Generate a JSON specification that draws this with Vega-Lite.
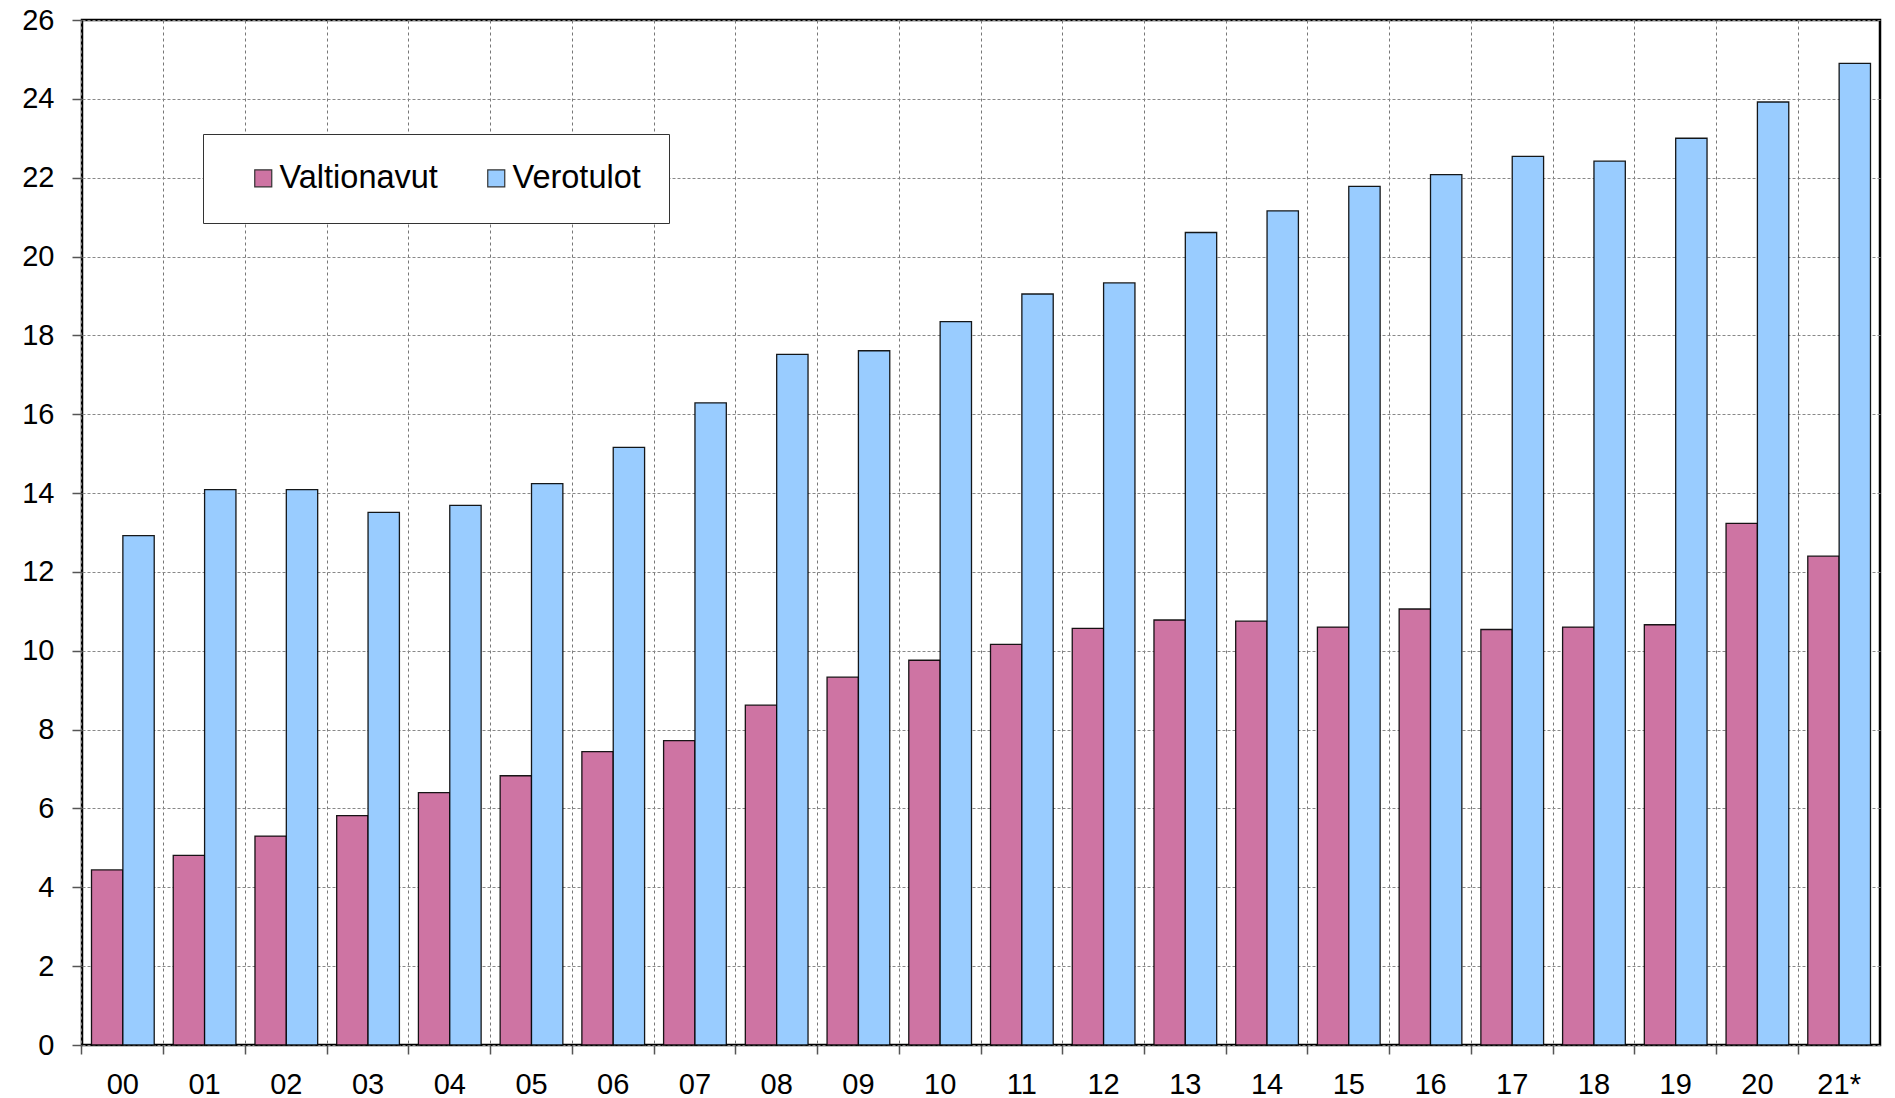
{
  "$schema": "https://vega.github.io/schema/vega-lite/v6.json",
  "width": 1798,
  "height": 1025,
  "autosize": {"type": "none"},
  "padding": {"left": 82, "top": 20, "right": 15, "bottom": 53},
  "background": "white",
  "data": {
    "values": [
      {"year": "00", "series": "Valtionavut", "value": 4.44},
      {"year": "01", "series": "Valtionavut", "value": 4.81},
      {"year": "02", "series": "Valtionavut", "value": 5.30},
      {"year": "03", "series": "Valtionavut", "value": 5.82},
      {"year": "04", "series": "Valtionavut", "value": 6.40},
      {"year": "05", "series": "Valtionavut", "value": 6.83},
      {"year": "06", "series": "Valtionavut", "value": 7.44},
      {"year": "07", "series": "Valtionavut", "value": 7.72},
      {"year": "08", "series": "Valtionavut", "value": 8.62},
      {"year": "09", "series": "Valtionavut", "value": 9.33},
      {"year": "10", "series": "Valtionavut", "value": 9.76},
      {"year": "11", "series": "Valtionavut", "value": 10.16},
      {"year": "12", "series": "Valtionavut", "value": 10.57},
      {"year": "13", "series": "Valtionavut", "value": 10.78},
      {"year": "14", "series": "Valtionavut", "value": 10.75},
      {"year": "15", "series": "Valtionavut", "value": 10.60},
      {"year": "16", "series": "Valtionavut", "value": 11.06},
      {"year": "17", "series": "Valtionavut", "value": 10.54},
      {"year": "18", "series": "Valtionavut", "value": 10.60},
      {"year": "19", "series": "Valtionavut", "value": 10.66},
      {"year": "20", "series": "Valtionavut", "value": 13.23},
      {"year": "21*", "series": "Valtionavut", "value": 12.40},
      {"year": "00", "series": "Verotulot", "value": 12.92},
      {"year": "01", "series": "Verotulot", "value": 14.09},
      {"year": "02", "series": "Verotulot", "value": 14.09},
      {"year": "03", "series": "Verotulot", "value": 13.51},
      {"year": "04", "series": "Verotulot", "value": 13.69},
      {"year": "05", "series": "Verotulot", "value": 14.24},
      {"year": "06", "series": "Verotulot", "value": 15.16},
      {"year": "07", "series": "Verotulot", "value": 16.29},
      {"year": "08", "series": "Verotulot", "value": 17.52},
      {"year": "09", "series": "Verotulot", "value": 17.61},
      {"year": "10", "series": "Verotulot", "value": 18.35},
      {"year": "11", "series": "Verotulot", "value": 19.05},
      {"year": "12", "series": "Verotulot", "value": 19.33},
      {"year": "13", "series": "Verotulot", "value": 20.61},
      {"year": "14", "series": "Verotulot", "value": 21.16},
      {"year": "15", "series": "Verotulot", "value": 21.78},
      {"year": "16", "series": "Verotulot", "value": 22.08},
      {"year": "17", "series": "Verotulot", "value": 22.54},
      {"year": "18", "series": "Verotulot", "value": 22.42},
      {"year": "19", "series": "Verotulot", "value": 23.00},
      {"year": "20", "series": "Verotulot", "value": 23.92},
      {"year": "21*", "series": "Verotulot", "value": 24.90}
    ]
  },
  "mark": {"type": "bar", "stroke": "#000000", "strokeWidth": 1.3, "strokeOpacity": 0.9},
  "encoding": {
    "x": {
      "field": "year",
      "type": "nominal",
      "sort": null,
      "scale": {"paddingInner": 0, "paddingOuter": 0},
      "axis": {
        "title": null,
        "labelAngle": 0,
        "bandPosition": 0,
        "grid": true,
        "gridColor": "#777777",
        "gridDash": [3, 3],
        "gridWidth": 1,
        "tickSize": 9,
        "tickColor": "#555555",
        "tickWidth": 1.5,
        "labelPadding": 16,
        "labelFontSize": 29,
        "labelFont": "Liberation Sans",
        "labelColor": "#000000",
        "domain": false
      }
    },
    "xOffset": {
      "field": "series",
      "type": "nominal",
      "scale": {"paddingInner": 0, "paddingOuter": 0.303}
    },
    "y": {
      "field": "value",
      "type": "quantitative",
      "scale": {"domain": [0, 26], "nice": false},
      "axis": {
        "title": null,
        "values": [0, 2, 4, 6, 8, 10, 12, 14, 16, 18, 20, 22, 24, 26],
        "grid": true,
        "gridColor": "#888888",
        "gridDash": [3, 2],
        "gridWidth": 1,
        "tickSize": 10,
        "tickColor": "#555555",
        "tickWidth": 1.5,
        "labelPadding": 18,
        "labelFontSize": 29,
        "labelFont": "Liberation Sans",
        "labelColor": "#000000",
        "domain": false
      }
    },
    "color": {
      "field": "series",
      "type": "nominal",
      "scale": {"domain": ["Valtionavut", "Verotulot"], "range": ["#CE74A3", "#99CCFF"]},
      "legend": {
        "title": null,
        "orient": "none",
        "direction": "horizontal",
        "legendX": 121,
        "legendY": 114,
        "padding": 28,
        "strokeColor": "#333333",
        "fillColor": "#ffffff",
        "symbolType": "square",
        "symbolSize": 289,
        "symbolOffset": 16,
        "symbolStrokeColor": "#333333",
        "symbolStrokeWidth": 1.2,
        "symbolOpacity": 1,
        "labelFontSize": 32.5,
        "labelFont": "Liberation Sans",
        "labelColor": "#000000",
        "labelOffset": 0,
        "columnPadding": 26
      }
    }
  },
  "config": {
    "view": {"stroke": "#000000", "strokeWidth": 2.5},
    "axis": {"labelFont": "Liberation Sans"}
  }
}
